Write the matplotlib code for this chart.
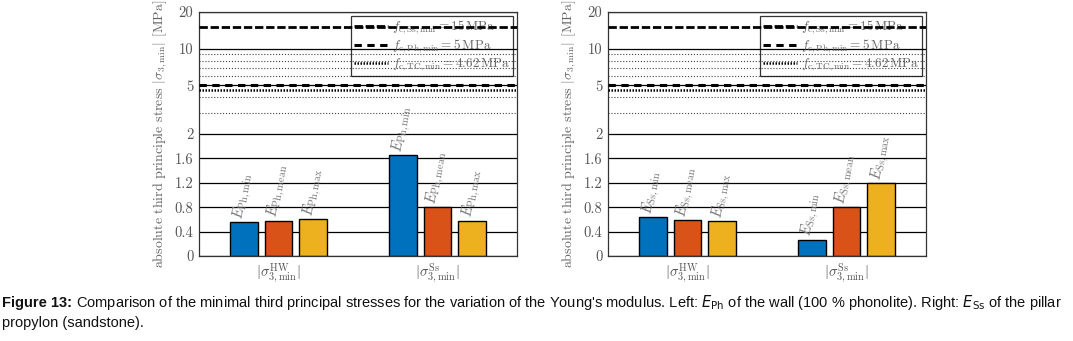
import numpy as np
import matplotlib
matplotlib.use('Agg')
import matplotlib.pyplot as plt
from matplotlib.ticker import FixedLocator, FixedFormatter

plt.rcParams['font.family'] = 'serif'
plt.rcParams['font.serif'] = ['cmr10', 'DejaVu Serif']
plt.rcParams['mathtext.fontset'] = 'cm'
plt.rcParams['axes.formatter.use_mathtext'] = True

# data
groups = [r'$|\sigma_{3,\min}^{\mathrm{HW}}|$', r'$|\sigma_{3,\min}^{\mathrm{Ss}}|$']
left_vals = [[0.55, 0.58, 0.61], [1.66, 0.80, 0.58]]
right_vals = [[0.64, 0.59, 0.57], [0.27, 0.80, 1.20]]
left_names = [r'$E_{\mathrm{Ph,min}}$', r'$E_{\mathrm{Ph,mean}}$', r'$E_{\mathrm{Ph,max}}$']
right_names = [r'$E_{\mathrm{Ss,min}}$', r'$E_{\mathrm{Ss,mean}}$', r'$E_{\mathrm{Ss,max}}$']
limits = [15, 5, 4.62]
limit_labels = [r'$f_{\mathrm{c,Ss,min}} = 15\,\mathrm{MPa}$',
                r'$f_{\mathrm{c,Ph,min}} = 5\,\mathrm{MPa}$',
                r'$f_{\mathrm{c,TC,min}} = 4.62\,\mathrm{MPa}$']
yticks = [0, 0.4, 0.8, 1.2, 1.6, 2, 5, 10, 20]
ytick_labels = ['0', '0.4', '0.8', '1.2', '1.6', '2', '5', '10', '20']
yminor = [3, 4, 6, 7, 8, 9]

colors = ['#0072BD', '#D95319', '#EDB120']
limit_dashes = [(3, 1), (2.4, 1.8), (0.6, 0.6)]
limit_widths = [2, 2.2, 1.8]
gray = '#555555'


def fwd(y):
    y = np.asarray(y, dtype=float)
    return np.where(y <= 2, y, 2 + 2 * np.log10(np.maximum(y, 1e-9) / 2))


def inv(t):
    t = np.asarray(t, dtype=float)
    return np.where(t <= 2, t, 2 * 10 ** ((np.minimum(t, 50) - 2) / 2))


def panel(ax, vals, names):
    ax.set_yscale('function', functions=(fwd, inv))
    ax.set_ylim(0, 20)
    ax.set_xlim(0.5, 2.5)
    ax.set_axisbelow(True)
    offsets = [-0.22, 0, 0.22]
    for g, gv in enumerate(vals):
        for i, v in enumerate(gv):
            x = g + 1 + offsets[i]
            ax.bar(x, v, width=0.176, color=colors[i], edgecolor='black', linewidth=1, zorder=2)
            ax.text(x, v + 0.02, names[i], rotation=80, ha='center', va='bottom',
                    fontsize=10.5, color='#777777', zorder=4)
    for val, d, lw, lab in zip(limits, limit_dashes, limit_widths, limit_labels):
        ax.axhline(val, color='black', dashes=d, linewidth=lw, label=lab, zorder=3)
    ax.yaxis.set_major_locator(FixedLocator(yticks))
    ax.yaxis.set_major_formatter(FixedFormatter(ytick_labels))
    ax.yaxis.set_minor_locator(FixedLocator(yminor))
    ax.grid(axis='y', which='major', color='black', linewidth=0.9)
    ax.grid(axis='y', which='minor', color='#444444', linestyle=':', linewidth=0.8)
    ax.set_xticks([1, 2])
    ax.set_xticklabels(groups)
    ax.tick_params(axis='both', which='both', direction='in', length=0, colors=gray,
                   labelsize=10.5, pad=4)
    ax.set_ylabel(r'absolute third principle stress $|\sigma_{3,\min}|$ [MPa]',
                  color='#666666', fontsize=10, labelpad=4)
    for s in ax.spines.values():
        s.set_color('#333333')
        s.set_linewidth(0.9)
    leg = ax.legend(loc='upper right', fontsize=9.5, handlelength=2.6, borderaxespad=0.3,
                    fancybox=False, edgecolor='black', labelcolor='#666666',
                    borderpad=0.2, labelspacing=0.1, handletextpad=0.3)
    leg.get_frame().set_facecolor('none')
    leg.get_frame().set_linewidth(0.9)
    leg.set_zorder(1)


fig = plt.figure(figsize=(10.73, 3.41), dpi=100)
W, H = 1073, 341
ax1 = fig.add_axes([199 / W, (H - 256) / H, 318 / W, 244 / H])
ax2 = fig.add_axes([608 / W, (H - 256) / H, 318 / W, 244 / H])
panel(ax1, left_vals, left_names)
panel(ax2, right_vals, right_names)

cap_y1 = 1 - 303 / H
cap_y2 = 1 - 323 / H
t1 = fig.text(2 / W, cap_y1, 'Figure 13:', fontsize=10.55, fontweight='bold',
              family='Liberation Sans', va='center', color='#111111')
fig.canvas.draw()
bb = t1.get_window_extent()
fig.text((bb.x1 + 4) / W, cap_y1,
         "Comparison of the minimal third principal stresses for the variation of the Young's modulus. "
         r"Left: $E_{\mathsf{Ph}}$ of the wall (100 % phonolite). Right: $E_{\mathsf{Ss}}$ of the pillar",
         fontsize=10.55, family='Liberation Sans', va='center', color='#111111',
         math_fontfamily='dejavusans')
fig.text(2 / W, cap_y2, 'propylon (sandstone).', fontsize=10.55, family='Liberation Sans',
         va='center', color='#111111')

fig.savefig('out.png', dpi=100)
